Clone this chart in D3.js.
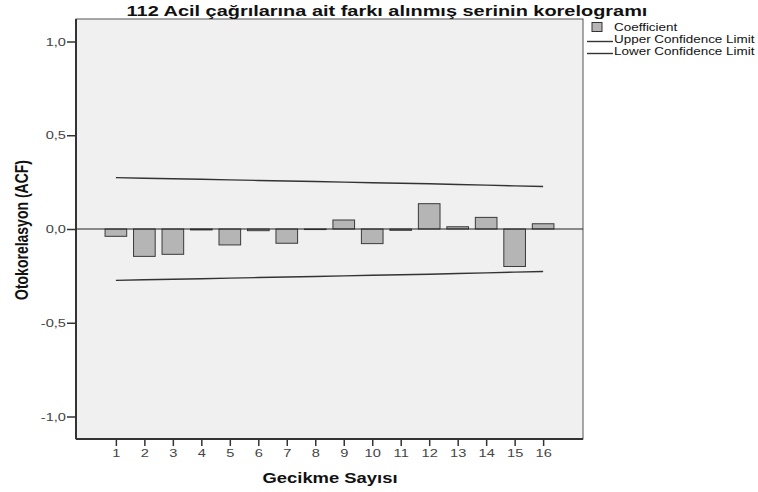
<!DOCTYPE html>
<html>
<head>
<meta charset="utf-8">
<script src="https://cdn.jsdelivr.net/npm/d3@7"></script>
<style>
  body { margin: 0; background: #fff; }
  text { font-family: "Liberation Sans", Arial, sans-serif; }
</style>
</head>
<body>
<div id="chart"></div>
<script>
var svgWidth = 758;
var svgHeight = 492;

// chart data
var lags = [1, 2, 3, 4, 5, 6, 7, 8, 9, 10, 11, 12, 13, 14, 15, 16];
var coefficient = [-0.039, -0.146, -0.135, -0.005, -0.085, -0.009, -0.076, -0.003,
                   0.048, -0.078, -0.007, 0.135, 0.012, 0.062, -0.200, 0.028];
var upperLimit = [0.274, 0.271, 0.268, 0.265, 0.262, 0.259, 0.256, 0.253,
                  0.250, 0.247, 0.244, 0.241, 0.237, 0.234, 0.230, 0.227];
var lowerLimit = [-0.274, -0.271, -0.268, -0.265, -0.262, -0.259, -0.256, -0.253,
                  -0.250, -0.247, -0.244, -0.241, -0.237, -0.234, -0.230, -0.227];
var yTicks = [-1.0, -0.5, 0.0, 0.5, 1.0];
var legendLabels = ["Coefficient", "Upper Confidence Limit", "Lower Confidence Limit"];

var margin = { top: 19, right: 175, bottom: 53, left: 76 };
var width = svgWidth - margin.left - margin.right;
var height = svgHeight - margin.top - margin.bottom;

// the original output is stretched horizontally, so text gets widened too
var stretch = 1.33;

var svg = d3.select("#chart").append("svg")
    .attr("width", svgWidth)
    .attr("height", svgHeight);

var chartGroup = svg.append("g")
    .attr("transform", `translate(${margin.left}, ${margin.top})`);

var xScale = d3.scaleLinear()
    .domain([-0.4, 17.4])
    .range([0, width]);

var yScale = d3.scaleLinear()
    .domain([-1.12, 1.12])
    .range([height, 0]);

var barWidth = (xScale(2) - xScale(1)) * 0.76;

// plot background
chartGroup.append("rect")
    .attr("width", width)
    .attr("height", height)
    .attr("fill", "#f0f0f0")
    .attr("stroke", "#555")
    .attr("stroke-width", 1);

// bars
chartGroup.selectAll(".bar")
    .data(lags)
    .enter()
    .append("rect")
    .attr("class", "bar")
    .attr("x", d => xScale(d) - barWidth / 2)
    .attr("y", (d, i) => yScale(Math.max(0, coefficient[i])))
    .attr("width", barWidth)
    .attr("height", (d, i) => Math.abs(yScale(coefficient[i]) - yScale(0)))
    .attr("fill", "#b5b5b5")
    .attr("stroke", "#3a3a3a")
    .attr("stroke-width", 1);

// zero line
chartGroup.append("line")
    .attr("x1", 0)
    .attr("x2", width)
    .attr("y1", yScale(0))
    .attr("y2", yScale(0))
    .attr("stroke", "#222")
    .attr("stroke-width", 1.2);

// confidence limits
var line = d3.line()
    .x((d, i) => xScale(lags[i]))
    .y(d => yScale(d));

[upperLimit, lowerLimit].forEach(function(series) {
    chartGroup.append("path")
        .datum(series)
        .attr("d", line)
        .attr("fill", "none")
        .attr("stroke", "#333")
        .attr("stroke-width", 1.4);
});

// axes
var yAxis = chartGroup.append("g")
    .call(d3.axisLeft(yScale)
        .tickValues(yTicks)
        .tickSize(9)
        .tickFormat(d => d3.format(".1f")(d).replace(".", ",").replace("−", "-")));

var xAxis = chartGroup.append("g")
    .attr("transform", `translate(0, ${height})`)
    .call(d3.axisBottom(xScale)
        .tickValues(lags)
        .tickSize(7)
        .tickPadding(3)
        .tickFormat(d3.format("d")));

[yAxis, xAxis].forEach(function(ax) {
    ax.select(".domain").attr("stroke", "#333").attr("stroke-width", 2);
    ax.selectAll(".tick line").attr("stroke", "#333").attr("stroke-width", 1.5);
    ax.selectAll(".tick text")
        .attr("fill", "#444")
        .attr("transform", `scale(${stretch}, 1)`)
        .style("font-size", "11px")
        .style("font-family", "'Liberation Sans', Arial, sans-serif");
});
yAxis.selectAll(".tick text").attr("x", -10 / stretch);
yAxis.select(".domain").attr("d", `M0,0V${height}`);
xAxis.select(".domain").attr("d", `M0,0H${width}`);

// title
svg.append("text")
    .attr("transform", `translate(387, 15.5) scale(${stretch}, 1)`)
    .attr("text-anchor", "middle")
    .style("font-size", "15px")
    .style("font-weight", "bold")
    .attr("fill", "#111")
    .text("112 Acil çağrılarına ait farkı alınmış serinin korelogramı");

// axis labels
svg.append("text")
    .attr("transform", `translate(28, 230) rotate(-90) scale(1, ${stretch})`)
    .attr("text-anchor", "middle")
    .style("font-size", "14px")
    .style("font-weight", "bold")
    .attr("fill", "#111")
    .text("Otokorelasyon (ACF)");

svg.append("text")
    .attr("transform", `translate(330, 483) scale(1.27, 1)`)
    .attr("text-anchor", "middle")
    .style("font-size", "14.5px")
    .style("font-weight", "bold")
    .attr("fill", "#111")
    .text("Gecikme Sayısı");

// legend
var legend = svg.append("g")
    .attr("transform", "translate(587, 0)");

legend.append("rect")
    .attr("x", 5)
    .attr("y", 22.5)
    .attr("width", 10)
    .attr("height", 9)
    .attr("fill", "#b5b5b5")
    .attr("stroke", "#333");

[41.5, 53.5].forEach(function(y) {
    legend.append("line")
        .attr("x1", 0)
        .attr("x2", 26)
        .attr("y1", y)
        .attr("y2", y)
        .attr("stroke", "#333")
        .attr("stroke-width", 1.4);
});

legend.selectAll(".legend-text")
    .data(legendLabels)
    .enter()
    .append("text")
    .attr("class", "legend-text")
    .attr("transform", (d, i) => `translate(27, ${31 + i * 12}) scale(1.17, 1)`)
    .style("font-size", "11.5px")
    .attr("fill", "#111")
    .text(d => d);
</script>
</body>
</html>
